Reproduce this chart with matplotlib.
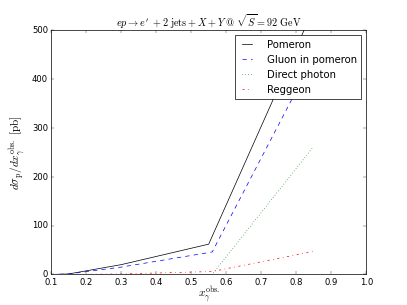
import matplotlib
matplotlib.use("Agg")
import matplotlib.pyplot as plt

# values
x_pomeron = [0.10, 0.15, 0.30, 0.55, 0.85]
y_pomeron = [0.0, 1.0, 20.0, 62.0, 545.0]

x_gluon = [0.10, 0.15, 0.30, 0.56, 0.85]
y_gluon = [0.0, 1.0, 15.0, 46.0, 445.0]

x_direct = [0.563, 0.845]
y_direct = [3.0, 258.0]

x_reggeon = [0.10, 0.15, 0.30, 0.56, 0.855]
y_reggeon = [0.0, 0.0, 1.0, 6.0, 48.0]

plt.style.use("classic")
plt.rcParams["mathtext.fontset"] = "cm"

fig = plt.figure(figsize=(8, 6), dpi=50.9)
ax = fig.add_subplot(111)

ax.plot(x_pomeron, y_pomeron, "k-", label="Pomeron")
ax.plot(x_gluon, y_gluon, "b--", label="Gluon in pomeron")
ax.plot(x_direct, y_direct, "g:", label="Direct photon")
ax.plot(x_reggeon, y_reggeon, "r-.", label="Reggeon")

ax.set_xlim(0.1, 1.0)
ax.set_ylim(0, 500)
ax.set_xticks([0.1, 0.2, 0.3, 0.4, 0.5, 0.6, 0.7, 0.8, 0.9, 1.0])
ax.set_yticks([0, 100, 200, 300, 400, 500])

ax.set_title(r"$ep \rightarrow e^{\prime}\ + 2\ \mathrm{jets} + X + Y\ @\ \sqrt{S} = 92\ \mathrm{GeV}$")
ax.set_xlabel(r"$x_{\gamma}^{\mathrm{obs.}}$", fontsize=16, labelpad=-3)
ax.set_ylabel(r"$d\sigma_{\mathrm{p}}/dx_{\gamma}^{\mathrm{obs.}}\ [\mathrm{pb}]$", fontsize=16)
ax.legend(loc="upper right", handlelength=1.6, handletextpad=1.2)

fig.savefig("out.png", dpi=50.9)
